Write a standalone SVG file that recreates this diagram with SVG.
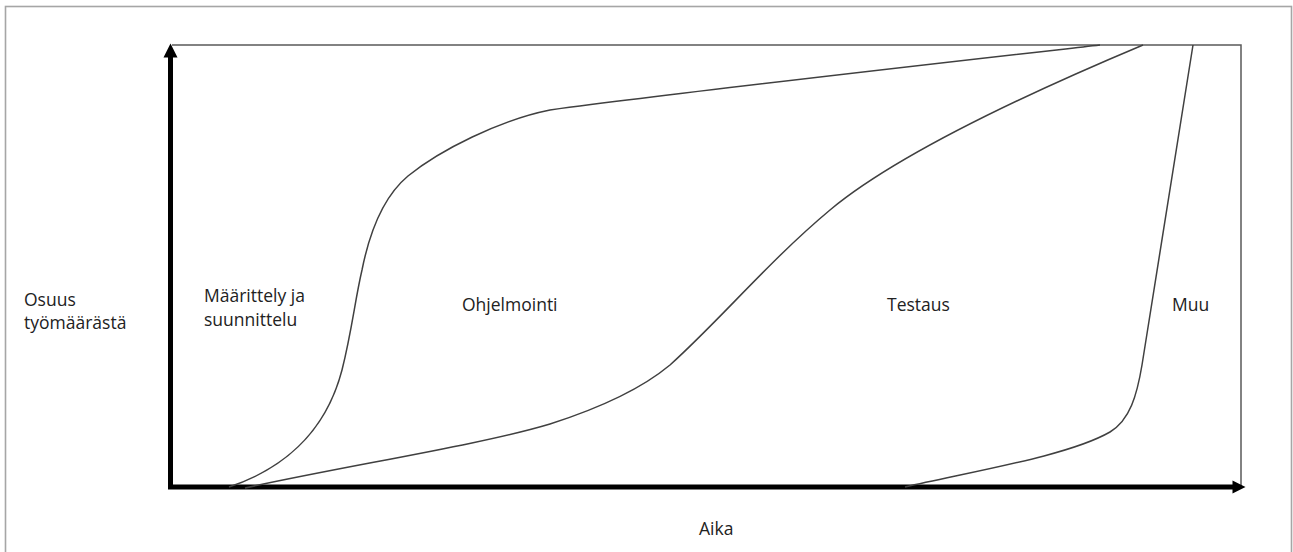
<svg xmlns="http://www.w3.org/2000/svg" width="1293" height="552" viewBox="0 0 1293 552">
  <defs>
    <style>
      .frame { fill: none; stroke: #a6a6a6; stroke-width: 1.6; }
      .box { fill: none; stroke: #5a5a5a; stroke-width: 1.5; }
      .axis { fill: none; stroke: #000; stroke-width: 5; }
      .curve { fill: none; stroke: #404040; stroke-width: 1.5; }
      .label { font-family: "Open Sans", "Liberation Sans", sans-serif; font-size: 17.5px; fill: #222; }
    </style>
  </defs>
  <rect width="1293" height="552" fill="#fff"/>
  <!-- outer frame, open at the bottom edge -->
  <rect class="frame" x="5.5" y="6.5" width="1286" height="560"/>

  <!-- chart area outline (top and right edges) -->
  <g id="chart-box">
    <polyline class="box" points="172,45 1241,45 1241,486"/>
  </g>

  <!-- axes -->
  <g id="axes">
    <line class="axis" x1="170.5" y1="489" x2="170.5" y2="56"/>
    <polygon points="163.5,57.5 177.5,57.5 170.5,43.5" fill="#000"/>
    <line class="axis" x1="168" y1="487" x2="1234" y2="487"/>
    <polygon points="1232.5,480.5 1232.5,493.5 1245.5,487" fill="#000"/>
  </g>

  <!-- phase boundary curves -->
  <g id="connectors">
    <path id="curve-design" class="curve" d="M229,487 C280,470 325,435 342,370 C352,330 355,300 362,270 C370,230 384,196 408,176 C440,150 500,120 550,110 C700,90 950,62 1100,45"/>
    <path id="curve-coding" class="curve" d="M245,488 C350,465 480,445 550,424 C600,408 640,390 670,365 C720,320 770,260 830,210 C890,160 1000,105 1143,45"/>
    <path id="curve-testing" class="curve" d="M905,487 C980,470 1070,455 1110,432 C1130,420 1137,395 1142,365 L1193,45"/>
  </g>

  <!-- labels -->
  <g id="label-y-axis">
    <text class="label" x="24" y="306">Osuus</text>
    <text class="label" x="24" y="329">työmäärästä</text>
  </g>
  <g id="label-design">
    <text class="label" x="204" y="302">Määrittely ja</text>
    <text class="label" x="204" y="326">suunnittelu</text>
  </g>
  <g id="label-coding">
    <text class="label" x="462" y="311">Ohjelmointi</text>
  </g>
  <g id="label-testing">
    <text class="label" x="887" y="311">Testaus</text>
  </g>
  <g id="label-other">
    <text class="label" x="1172" y="311">Muu</text>
  </g>
  <g id="label-x-axis">
    <text class="label" x="699" y="535">Aika</text>
  </g>
</svg>
